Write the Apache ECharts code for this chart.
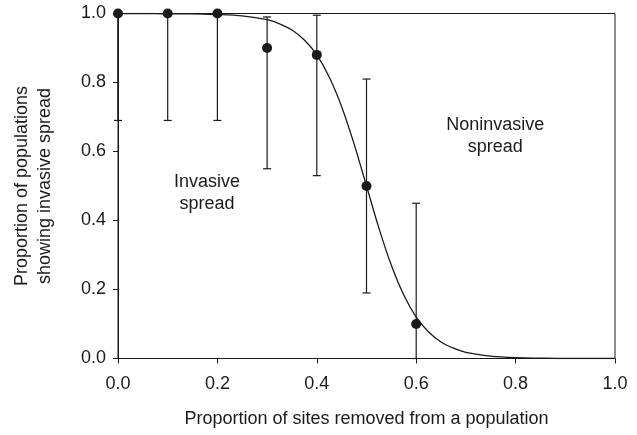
<!DOCTYPE html>
<html>
<head>
<meta charset="utf-8">
<script src="https://cdn.jsdelivr.net/npm/echarts@6/dist/echarts.min.js"></script>
<style>html,body{margin:0;padding:0;background:#fff}#c{width:637px;height:435px}</style>
</head>
<body>
<div id="c"></div>
<script>
// Observed data
var obsX = [0.0, 0.1, 0.2, 0.3, 0.4, 0.5, 0.6];
var obsY = [1.0, 1.0, 1.0, 0.90, 0.88, 0.50, 0.10];
var errLow = [0.69, 0.69, 0.69, 0.55, 0.53, 0.19, 0.0];
var errHigh = [1.0, 1.0, 1.0, 0.99, 0.995, 0.81, 0.45];
// Fitted curve
var curveX = [0.0, 0.05, 0.1, 0.15, 0.2, 0.25, 0.3, 0.325, 0.35, 0.375, 0.4, 0.425, 0.45, 0.475, 0.5, 0.525, 0.55, 0.575, 0.6, 0.625, 0.65, 0.675, 0.7, 0.75, 0.8, 0.85, 0.9, 0.95, 1.0];
var curveY = [1.0, 1.0, 0.999, 0.999, 0.997, 0.993, 0.982, 0.970, 0.952, 0.923, 0.88, 0.816, 0.73, 0.622, 0.5, 0.378, 0.27, 0.184, 0.12, 0.077, 0.048, 0.03, 0.018, 0.007, 0.0025, 0.001, 0.0, 0.0, 0.0];
// Axis ticks
var xTicks = [0.0, 0.2, 0.4, 0.6, 0.8, 1.0];
var yTicks = [0.0, 0.2, 0.4, 0.6, 0.8, 1.0];
// Annotations
var notes = [
  {x: 0.179, y: 0.48, text: 'Invasive\nspread'},
  {x: 0.759, y: 0.645, text: 'Noninvasive\nspread'}
];

var FONT = 'Liberation Sans, Arial, Helvetica, sans-serif';
var INK = '#1a1a1a';

var chart = echarts.init(document.getElementById('c'), null, {renderer: 'canvas'});
var pts = obsX.map(function (x, i) { return [x, obsY[i]]; });
var errs = obsX.map(function (x, i) { return [x, errLow[i], errHigh[i]]; });
var curve = curveX.map(function (x, i) { return [x, curveY[i]]; });

chart.setOption({
  animation: false,
  backgroundColor: '#fff',
  grid: {left: 118, right: 22, top: 13.5, bottom: 76.5, containLabel: false, outerBoundsMode: 'none',
    show: true, borderColor: INK, borderWidth: 1, backgroundColor: 'transparent'},
  xAxis: {
    type: 'value', min: 0, max: 1, interval: 0.2,
    axisLine: {show: true, lineStyle: {color: INK, width: 1}},
    axisTick: {show: true, inside: false, length: 5, lineStyle: {color: INK}},
    splitLine: {show: false},
    axisLabel: {color: INK, fontSize: 18, fontFamily: FONT, margin: 17,
      formatter: function (v) { return v.toFixed(1); }},
    name: 'Proportion of sites removed from a population',
    nameLocation: 'middle', nameGap: 52,
    nameTextStyle: {color: INK, fontSize: 18, fontFamily: FONT}
  },
  yAxis: {
    type: 'value', min: 0, max: 1, interval: 0.2,
    axisLine: {show: true, lineStyle: {color: INK, width: 1}},
    axisTick: {show: true, inside: false, length: 5, lineStyle: {color: INK}},
    splitLine: {show: false},
    axisLabel: {color: INK, fontSize: 18, fontFamily: FONT, margin: 12,
      formatter: function (v) { return v.toFixed(1); }},
    name: 'Proportion of populations\nshowing invasive spread',
    nameLocation: 'middle', nameGap: 61, nameRotate: 90,
    nameTextStyle: {color: INK, fontSize: 18, fontFamily: FONT, lineHeight: 23}
  },
  series: [
    {
      type: 'line', data: curve, smooth: 0.3, symbol: 'none',
      lineStyle: {color: INK, width: 1.3}, z: 2
    },
    {
      type: 'custom', data: errs, z: 3,
      renderItem: function (params, api) {
        var x = api.value(0);
        var lo = api.coord([x, api.value(1)]);
        var hi = api.coord([x, api.value(2)]);
        var hw = 4;
        var st = {stroke: INK, lineWidth: 1.2};
        return {type: 'group', children: [
          {type: 'line', shape: {x1: lo[0], y1: lo[1], x2: hi[0], y2: hi[1]}, style: st},
          {type: 'line', shape: {x1: lo[0] - hw, y1: lo[1], x2: lo[0] + hw, y2: lo[1]}, style: st},
          {type: 'line', shape: {x1: hi[0] - hw, y1: hi[1], x2: hi[0] + hw, y2: hi[1]}, style: st}
        ]};
      }
    },
    {
      type: 'scatter', data: pts, symbol: 'circle', symbolSize: 10,
      itemStyle: {color: INK, opacity: 1}, z: 4
    },
    {
      type: 'scatter', symbolSize: 0, z: 5,
      itemStyle: {opacity: 1},
      data: notes.map(function (n) { return {value: [n.x, n.y], label: {formatter: n.text}}; }),
      label: {show: true, position: 'inside', color: INK, opacity: 1, fontSize: 18, fontFamily: FONT, lineHeight: 22, align: 'center', verticalAlign: 'middle'}
    }
  ]
});
</script>
</body>
</html>
